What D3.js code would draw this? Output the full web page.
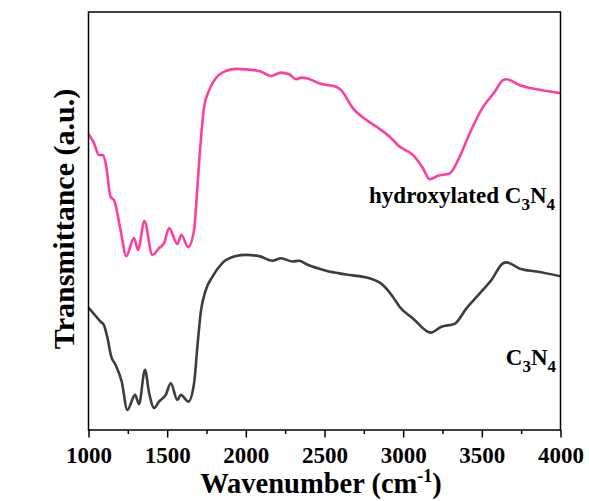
<!DOCTYPE html>
<html>
<head>
<meta charset="utf-8">
<script src="https://cdn.jsdelivr.net/npm/d3@7"></script>
<style>
  body { margin: 0; background: #fff; }
  text { font-family: "Liberation Serif", "Times New Roman", serif; font-weight: bold; fill: #000; }
</style>
</head>
<body>
<div class="chart"></div>
<script>
// wavenumber (cm-1)
var pinkWave = [1000, 1034, 1066, 1092, 1109, 1141, 1162, 1204, 1240, 1289, 1315, 1355, 1406, 1448, 1480,
  1512, 1565, 1590, 1633, 1671, 1692, 1714, 1735, 1767, 1810, 1873, 1937, 2085, 2160, 2223, 2276, 2319,
  2351, 2393, 2468, 2574, 2606, 2680, 2765, 2829, 2913, 2977, 3062, 3126, 3168, 3221, 3296, 3359, 3423,
  3508, 3582, 3635, 3657, 3742, 3848, 4000];
var pinkTrans = [70.8, 68.7, 65.8, 65.8, 63.9, 55.7, 55.0, 47.8, 41.6, 45.9, 43.1, 50.0, 41.9, 43.5, 44.7,
  48.3, 44.5, 46.7, 43.8, 47.8, 58.1, 69.4, 77.3, 81.3, 84.2, 85.9, 86.4, 85.9, 84.7, 85.5, 85.1, 83.9,
  84.3, 84.1, 82.9, 82.1, 81.3, 77.0, 74.2, 72.6, 70.2, 67.8, 65.8, 62.6, 60.0, 60.8, 61.4, 65.4, 71.0,
  77.3, 80.9, 83.7, 83.9, 82.5, 81.5, 80.6];

var grayWave = [1000, 1034, 1077, 1098, 1119, 1145, 1172, 1211, 1247, 1296, 1321, 1359, 1385, 1417, 1448,
  1491, 1523, 1565, 1587, 1635, 1671, 1692, 1714, 1746, 1788, 1852, 1937, 2001, 2085, 2170, 2223, 2297,
  2340, 2383, 2510, 2637, 2786, 2871, 2934, 2977, 3062, 3174, 3243, 3327, 3402, 3487, 3561, 3635, 3657,
  3742, 3848, 4000];
var grayTrans = [29.3, 27.8, 25.9, 25.1, 22.3, 17.5, 15.6, 11.6, 4.8, 8.4, 6.2, 14.4, 8.9, 5.3, 6.8,
  8.4, 11.2, 7.2, 8.4, 6.8, 11.2, 19.9, 28.3, 33.5, 36.7, 40.0, 41.6, 41.9, 41.6, 40.5, 41.1, 40.3,
  40.5, 39.7, 38.1, 37.2, 36.3, 34.7, 31.9, 29.5, 26.7, 23.3, 24.7, 25.4, 29.1, 32.7, 35.9, 39.9, 40.1,
  38.6, 37.9, 36.8];

var majorTicks = [1000, 1500, 2000, 2500, 3000, 3500, 4000]
  , minorTicks = [1250, 1750, 2250, 2750, 3250, 3750];

// plot box (window.top is read-only, so no bare "top" here)
var w = 589
  , h = 501
  , plotL = 88.5
  , plotR = 560.5
  , plotT = 12
  , plotB = 430;

var svg = d3.select('.chart')
            .append('svg')
            .attr('width', w)
            .attr('height', h);

var x = d3.scaleLinear().domain([1000, 4000]).range([plotL, plotR])
  , y = d3.scaleLinear().domain([0, 100]).range([plotB, plotT]);

var line = d3.line()
  .x(function (d) { return x(d[0]); })
  .y(function (d) { return y(d[1]); })
  .curve(d3.curveMonotoneX);

var drawSpectrum = function (wave, trans, color) {
  svg.append('path')
    .datum(d3.zip(wave, trans))
    .attr('fill', 'none')
    .attr('stroke', color)
    .attr('stroke-width', 2.6)
    .attr('stroke-linejoin', 'round')
    .attr('d', line);
};

drawSpectrum(pinkWave, pinkTrans, '#ff3fa0');
drawSpectrum(grayWave, grayTrans, '#3d3d3d');

// frame
svg.append('rect')
  .attr('x', plotL)
  .attr('y', plotT)
  .attr('width', plotR - plotL)
  .attr('height', plotB - plotT)
  .attr('fill', 'none')
  .attr('stroke', '#000')
  .attr('stroke-width', 1.5);

// minor ticks first, then the labelled ones
var minorAxis = svg.append('g')
  .attr('transform', 'translate(0,' + plotB + ')')
  .call(d3.axisBottom(x).tickValues(minorTicks).tickSize(4).tickFormat(''));

var majorAxis = svg.append('g')
  .attr('transform', 'translate(0,' + plotB + ')')
  .call(d3.axisBottom(x).tickValues(majorTicks).tickSize(7.5).tickFormat(d3.format('d')));

[minorAxis, majorAxis].forEach(function (g) {
  g.select('.domain').remove();
  g.selectAll('line').attr('stroke', '#000').attr('stroke-width', 1.5);
});

majorAxis.selectAll('text')
  .attr('y', 33)
  .attr('dy', 0)
  .style('font-family', '"Liberation Serif", "Times New Roman", serif')
  .style('font-weight', 'bold')
  .style('font-size', '23px')
  .attr('fill', '#000');

// axis titles
var xTitle = svg.append('text')
  .attr('x', 321)
  .attr('y', 493)
  .attr('text-anchor', 'middle')
  .style('font-size', '28.5px');
xTitle.append('tspan').text('Wavenumber (cm');
xTitle.append('tspan').attr('dy', -11).style('font-size', '18px').text('-1');
xTitle.append('tspan').attr('dy', 11).text(')');

svg.append('text')
  .attr('transform', 'translate(74,219) rotate(-90)')
  .attr('text-anchor', 'middle')
  .style('font-size', '30px')
  .text('Transmittance (a.u.)');

// series labels
var addLabel = function (prefix, xPos, yPos) {
  var t = svg.append('text')
    .attr('x', xPos)
    .attr('y', yPos)
    .attr('text-anchor', 'end')
    .style('font-size', '23px');
  t.append('tspan').text(prefix + 'C');
  t.append('tspan').attr('dy', 7).style('font-size', '17px').text('3');
  t.append('tspan').attr('dy', -7).text('N');
  t.append('tspan').attr('dy', 7).style('font-size', '17px').text('4');
};

addLabel('hydroxylated ', 555, 203);
addLabel('', 556, 365);
</script>
</body>
</html>
